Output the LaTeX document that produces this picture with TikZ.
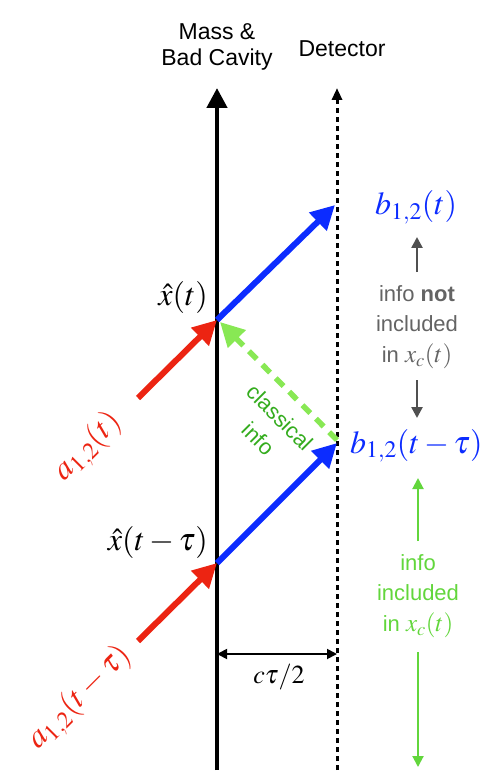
\documentclass[tikz,border=0pt]{standalone}
\usepackage{mathptmx}
\usepackage[no-math]{fontspec}
\setmainfont{Liberation Sans}
\usetikzlibrary{arrows.meta}
\definecolor{myred}{RGB}{236,36,18}
\definecolor{myblue}{RGB}{12,44,255}
\definecolor{lgreen}{RGB}{136,232,84}
\definecolor{dgreen}{RGB}{52,172,30}
\definecolor{igreen}{RGB}{98,214,60}
\definecolor{tgray}{RGB}{100,100,100}
\definecolor{agray}{RGB}{80,80,80}
\newcommand{\xcm}{{\fontsize{25}{30.5}\selectfont$x_c(t)$}}
\tikzset{
  hdr/.style={font=\fontsize{23}{26}\selectfont, align=center, inner sep=0pt},
  mlab/.style={font=\fontsize{32}{36}\selectfont, inner sep=0pt},
  txt/.style={font=\fontsize{22}{30.5}\selectfont, align=center, inner sep=0pt},
  thick arrow/.style={line width=6pt, -{Triangle[length=24pt,width=24pt]}},
  small arrow/.style={line width=2.5pt, -{Triangle[length=11pt,width=11pt]}},
}
\begin{document}
\begin{tikzpicture}[x=1pt,y=-1pt]
\useasboundingbox (0,0) rectangle (498,783);
% coordinates
\coordinate (mbot) at (217,770);
\coordinate (mtop) at (217,88);
\coordinate (dbot) at (337,770);
\coordinate (dtop) at (337,88);
\coordinate (x1) at (217,320);
\coordinate (x0) at (217,563);
\coordinate (d1) at (335,205);
\coordinate (d0) at (337,443);
\coordinate (r1) at (138,398);
\coordinate (r0) at (138,641);
\coordinate (gs) at (337,440);
\coordinate (ge) at (220,322);
\coordinate (dimL) at (217,654);
\coordinate (dimR) at (337,654);
% headers
\node[hdr] (mass) at (217,47) {Mass \&\\Bad Cavity};
\node[hdr, anchor=base] (det) at (342,57) {Detector};
% vertical lines
\draw[line width=4.5pt, -{Triangle[length=20pt,width=20pt]}] (mbot) -- (mtop);
\draw[line width=3pt, dash pattern=on 5pt off 4pt, -{Triangle[length=12pt,width=10pt]}] (dbot) -- (dtop);
% blue arrows
\draw[thick arrow, myblue] (x1) -- (d1);
\draw[thick arrow, myblue] (x0) -- (d0);
% red arrows
\draw[thick arrow, myred] (r1) -- (x1);
\draw[thick arrow, myred] (r0) -- (x0);
% classical info dashed
\draw[line width=5.5pt, lgreen, dash pattern=on 11pt off 8pt, -{Triangle[length=24pt,width=24pt]}] (gs) -- (ge);
\node[txt, text=dgreen, rotate=-45] (cl) at (269,428) {classical\\info};
% labels
\node[mlab, anchor=base east] (xt) at (208,305) {$\hat{x}(t)$};
\node[mlab, anchor=base east] (xtt) at (208,550) {$\hat{x}(t-\tau)$};
\node[mlab, text=myblue, anchor=base west] (bt) at (375,215) {$b_{1,2}(t)$};
\node[mlab, text=myblue, anchor=base west] (btt) at (350,453) {$b_{1,2}(t-\tau)$};
\node[mlab, text=myred, rotate=45] (at) at (88,447) {$a_{1,2}(t)$};
\node[mlab, text=myred, rotate=45] (att) at (80,698) {$a_{1,2}(t-\tau)$};
% dimension
\draw[line width=1.8pt, {Triangle[length=10pt,width=10pt]}-{Triangle[length=10pt,width=10pt]}] (dimL) -- (dimR);
\node[font=\fontsize{26}{30}\selectfont, inner sep=0pt] (ct) at (279,677) {$c\tau/2$};
% gray info
\node[txt, text=tgray] (notinc) at (417,327) {info \textbf{not}\\included\\in \xcm};
\coordinate (gu0) at (417,272);
\coordinate (gu1) at (417,237);
\coordinate (gd0) at (417,380);
\coordinate (gd1) at (417,418);
\draw[small arrow, agray] (gu0) -- (gu1);
\draw[small arrow, agray] (gd0) -- (gd1);
% green info
\node[txt, text=igreen] (inc) at (418,596) {info\\included\\in \xcm};
\coordinate (iu0) at (418,541);
\coordinate (iu1) at (418,478);
\coordinate (id0) at (418,652);
\coordinate (id1) at (418,767);
\draw[line width=2pt, igreen, -{Triangle[length=11pt,width=11pt]}] (iu0) -- (iu1);
\draw[line width=2pt, igreen, -{Triangle[length=11pt,width=11pt]}] (id0) -- (id1);
\end{tikzpicture}
\end{document}
